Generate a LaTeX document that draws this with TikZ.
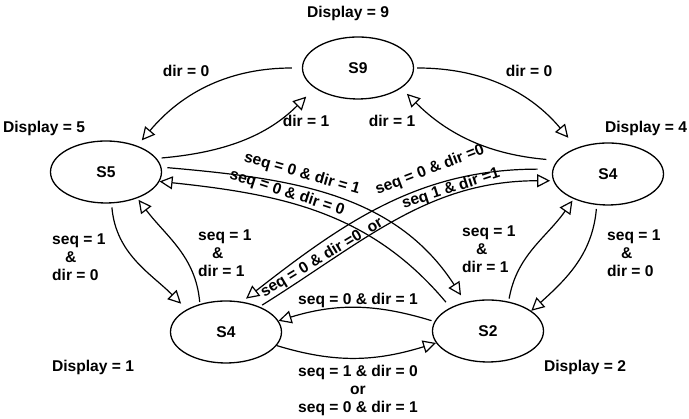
\documentclass[tikz,border=0pt]{standalone}
\usepackage{fontspec}
\setmainfont{Liberation Sans}
\usetikzlibrary{arrows.meta, shapes.geometric}
\tikzset{
  stateE/.style={ellipse, draw, line width=1.3pt, minimum width=111pt,
                 minimum height=62pt, inner sep=0pt},
  arrowO/.style={-{Triangle[open, length=13pt, width=13pt]}, line width=1.2pt},
  lbl/.style={inner sep=0pt},
  lblL/.style={lbl, align=left, anchor=west},
}
\begin{document}
\begin{tikzpicture}[x=1pt, y=1pt, font=\bfseries\fontsize{15.6}{18}\selectfont]
    \useasboundingbox (0,0) rectangle (689,419);
    \node[stateE] (s9) at (358,351) {S9};
    \node[stateE] (s5) at (106,247) {S5};
    \node[stateE] (s4r) at (608,245) {S4};
    \node[stateE] (s4b) at (226,87) {S4};
    \node[stateE] (s2) at (488,88) {S2};

    \node[lbl] (d9) at (348,406) {Display = 9};
    \node[lbl] (d5) at (44,291) {Display = 5};
    \node[lbl] (d4) at (646,291) {Display = 4};
    \node[lbl] (d1) at (93,52) {Display = 1};
    \node[lbl] (d2) at (585,52) {Display = 2};

    \node[lbl] (t95) at (186,348) {dir = 0};
    \node[lbl] (t59) at (306,298) {dir = 1};
    \node[lbl] (t49) at (392,298) {dir = 1};
    \node[lbl] (t94) at (529,348) {dir = 0};
    \node[lblL] (t54) at (52,162) {seq = 1\\\hspace*{13pt}\&\\dir = 0};
    \node[lblL] (t45) at (198,165.5) {seq = 1\\\hspace*{14pt}\&\\dir = 1};
    \node[lblL] (t24) at (462,169.5) {seq = 1\\\hspace*{14pt}\&\\dir = 1};
    \node[lblL] (t42) at (607,166) {seq = 1\\\hspace*{14pt}\&\\dir = 0};
    \node[lbl, align=center] (t4s2) at (358,29) {seq = 1 \& dir = 0\\or\\seq = 0 \& dir = 1};
    \node[lbl] (t2s4) at (358,119) {seq = 0 \& dir = 1};
    \node[lbl, rotate=-16] (t52) at (302,245) {seq = 0 \& dir = 1};
    \node[lbl, rotate=-18] (t25) at (287,226) {seq = 0 \& dir = 0};
    \node[lbl, rotate=21] (t4r4) at (430,249) {seq = 0 \& dir =0};
    \node[lbl, rotate=18] (t44a) at (451,230) {seq 1 \& dir =1};
    \node[lbl, rotate=31] (t44b) at (322,161) {seq = 0 \& dir =0\ \ or};

    \draw[arrowO, shorten <=10pt, shorten >=7pt] (s9.180) to[out=180, in=50] (s5.40);
    \draw[arrowO, shorten <=5pt, shorten >=12pt] (s5.15) to[out=5, in=225] (s9.205);
    \draw[arrowO, shorten <=3pt, shorten >=13pt] (s9.0) to[out=0, in=130] (s4r.140);
    \draw[arrowO, shorten <=11pt, shorten >=8pt] (s4r.165) to[out=175, in=-45] (s9.335);
    \draw[arrowO, shorten <=6pt, shorten >=8pt] (s5.5) to[out=-5, in=123] (s2.128);
    \draw[arrowO, shorten <=7pt] (s2.148) to[out=130, in=-6] (s5.-10);
    \draw[arrowO, shorten <=15pt, shorten >=5pt] (s4r.175) to[out=180, in=38] (s4b.62);
    \draw[arrowO, shorten <=3pt, shorten >=3pt] (s4b.37) to[out=32, in=180] (s4r.187);
    \draw[arrowO, shorten <=4pt, shorten >=8pt] (s5.280) to[out=-85, in=135] (s4b.150);
    \draw[arrowO, shorten <=2pt, shorten >=2pt] (s4b.133) to[out=95, in=-53] (s5.-40);
    \draw[arrowO, shorten <=3pt, shorten >=2pt] (s2.55) to[out=80, in=235] (s4r.216);
    \draw[arrowO, shorten <=4pt] (s4r.250) to[out=-95, in=42] (s2.25);
    \draw[arrowO, shorten <=3pt] (s2.170) to[out=163, in=17] (s4b.12);
    \draw[arrowO] (s4b.-15) to[out=-17, in=197] (s2.193);
  \end{tikzpicture}
\end{document}
